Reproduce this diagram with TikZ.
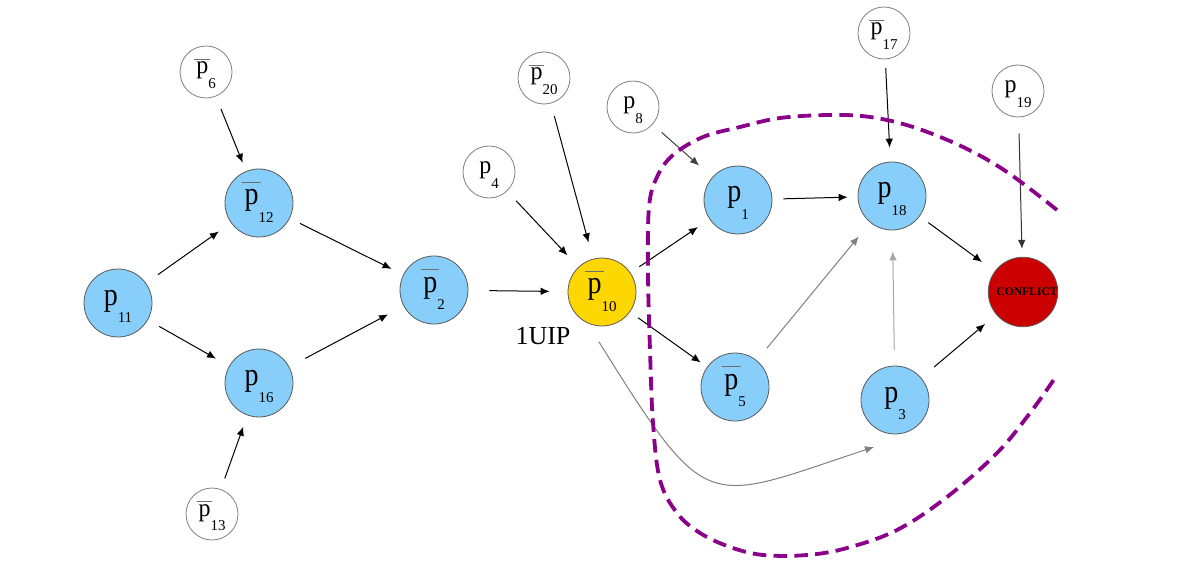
\documentclass[tikz,border=0pt]{standalone}
\usepackage{fontspec}
\usepackage{graphicx}
\setmainfont{Liberation Serif}
\usetikzlibrary{arrows.meta,calc}
\definecolor{litblue}{RGB}{135,206,250}
\definecolor{uipgold}{RGB}{255,215,0}
\definecolor{confred}{RGB}{204,0,0}
\definecolor{cutpurple}{RGB}{139,0,139}
\definecolor{bargray}{RGB}{110,110,110}
\definecolor{rimgray}{RGB}{90,90,90}
% #1 size, #2 bar, #3 subscript, #4 vertical stretch
\newcommand\lbl[4]{\raisebox{-1pt}[0pt][0pt]{\fontsize{#1}{#1}\selectfont #2\scalebox{1}[#4]{p}\raisebox{-0.62em}{\fontsize{7.5}{7.5}\selectfont #3}}}
\newcommand\negbar[1]{\rlap{\hspace{-0.08em}\raisebox{#1}{\textcolor{bargray}{\rule{0.66em}{0.5pt}}}}}
\tikzset{
  lit/.style={circle, draw=rimgray, fill=litblue, line width=0.4pt, minimum size=34pt, inner sep=0pt},
  uip/.style={lit, fill=uipgold},
  confl/.style={lit, fill=confred},
  inp/.style={circle, draw=gray, fill=white, line width=0.4pt, minimum size=26pt, inner sep=0pt},
  e/.style={draw=black, line width=0.5pt, -{Latex[length=4.5pt,width=3.8pt]}},
  faint/.style={draw=gray},
  fainter/.style={draw=black!35},
  cut/.style={draw=cutpurple, line width=1.9pt, dash pattern=on 6.8pt off 3.6pt}
}
\begin{document}
\begin{tikzpicture}[x=0.5pt,y=-0.5pt]
\useasboundingbox (0,0) rectangle (1177,577);
% implication graph nodes
\node[inp] (p6)  at (206,72)  {\lbl{12}{\negbar{6.8pt}}{6}{1.05}};
\node[lit] (p12) at (259,203) {\lbl{14}{\negbar{11pt}}{12}{1.15}};
\node[lit] (p11) at (118,303) {\lbl{14}{}{11}{1.15}};
\node[lit] (p16) at (259,383) {\lbl{14}{}{16}{1.15}};
\node[inp] (p13) at (212,514) {\lbl{12}{\negbar{6.8pt}}{13}{1.05}};
\node[lit] (p2)  at (434,290) {\lbl{14}{\negbar{11pt}}{2}{1.15}};
\node[inp] (p20) at (544,78)  {\lbl{12}{\negbar{6.8pt}}{20}{1.05}};
\node[inp] (p4)  at (489,172) {\lbl{12}{}{4}{1.05}};
\node[inp] (p8)  at (633,107) {\lbl{12}{}{8}{1.05}};
\node[uip] (p10) at (602,292) {\lbl{14}{\negbar{11pt}}{10}{1.15}};
\node[font=\fontsize{13}{13}\selectfont] (uiplabel) at (543,336) {1UIP};
\node[lit] (p1)  at (738,200) {\lbl{14}{}{1}{1.15}};
\node[lit] (p5)  at (735,387) {\lbl{14}{\negbar{11pt}}{5}{1.15}};
\node[inp] (p17) at (884,33)  {\lbl{12}{\negbar{6.8pt}}{17}{1.05}};
\node[lit] (p18) at (892,196) {\lbl{14}{}{18}{1.15}};
\node[lit] (p3)  at (895,400) {\lbl{14}{}{3}{1.15}};
\node[inp] (p19) at (1018,91) {\lbl{12}{}{19}{1.05}};
\node[confl] (conf) at (1023,292) {\hspace{4pt}\fontsize{5.8}{5.8}\selectfont\bfseries CONFLICT};
% connectors
\draw[e, shorten <=6.8pt, shorten >=4.5pt] (p6) -- (p12);
\draw[e, shorten <=7.3pt, shorten >=7.4pt] (p11) -- (p12);
\draw[e, shorten <=5.7pt, shorten >=6.5pt] (p12) -- (p2);
\draw[e, shorten <=6.5pt, shorten >=7.5pt] (p11) -- (p16);
\draw[e, shorten <=9pt, shorten >=8.8pt] (p16) -- (p2);
\draw[e, shorten <=5.7pt, shorten >=6pt] (p13) -- (p16);
\draw[e, shorten <=10.5pt, shorten >=9pt] (p2) -- (p10);
\draw[e, shorten <=6.6pt, shorten >=8pt] (p4) -- (p10);
\draw[e, shorten <=6.5pt, shorten >=8.5pt] (p20) -- (p10);
\draw[e, draw=black!75, shorten <=6pt, shorten >=8.8pt] (p8) -- (p1);
\draw[e, shorten <=5.3pt, shorten >=7pt] (p10) -- (p1);
\draw[e, shorten <=5.5pt, shorten >=5pt] (p1) -- (p18);
\draw[e, shorten <=4.3pt, shorten >=7pt] (p17) -- (p18);
\draw[e, shorten <=5.3pt, shorten >=7.8pt] (p18) -- (conf);
\draw[e, draw=black!80, shorten <=8pt, shorten >=4pt] (p19) -- (conf);
\draw[e, faint, shorten <=7.9pt, shorten >=9pt] (p5) -- (p18);
\draw[e, fainter, shorten <=8pt, shorten >=10.5pt] (p3) -- (p18);
\draw[e, shorten <=5pt, shorten >=3.9pt] (p10) -- (p5);
\draw[e, shorten <=8.4pt, shorten >=7.2pt] (p3) -- (conf);
\coordinate (k1) at (709,518);
\coordinate (k2) at (704,503);
\draw[e, faint] ($(p10)+(-3,50)$) .. controls (k1) and (k2) .. ($(p3)+(-21,47)$);
% cut
\draw[cut] plot[smooth, tension=0.6] coordinates {(1057,210) (1007,172) (963,147) (913,127) (870,117) (830,115) (780,118) (740,127) (703,137) (673,155) (657,177) (649,207) (648,273) (650,350) (653,423) (660,480) (677,513) (700,533) (730,547) (763,555) (807,555) (847,548) (897,530) (947,497) (997,453) (1030,413) (1055,378)};
\end{tikzpicture}
\end{document}
